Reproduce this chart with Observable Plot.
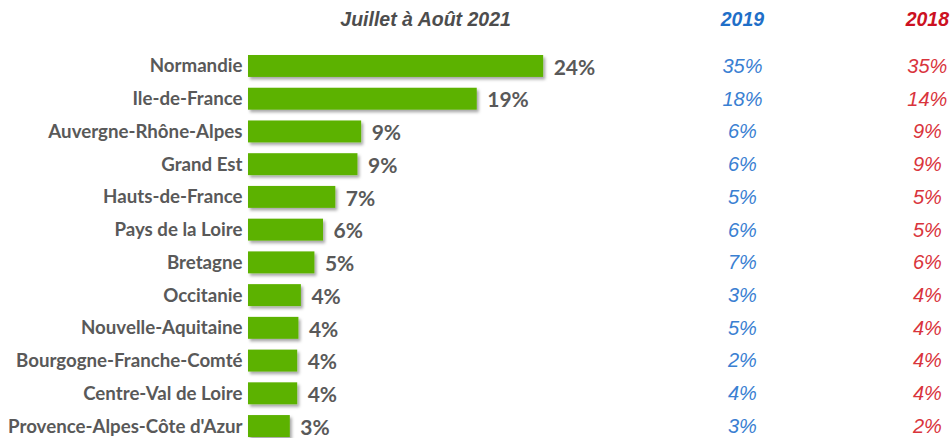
<!DOCTYPE html>
<html>
<head>
<meta charset="utf-8">
<script src="https://cdn.jsdelivr.net/npm/d3@7"></script>
<script src="https://cdn.jsdelivr.net/npm/@observablehq/plot@0.6"></script>
<style>
  html, body { margin: 0; padding: 0; background: #fff; }
  #chart { width: 951px; height: 438px; overflow: hidden; }
</style>
</head>
<body>
<div id="chart"></div>
<script>
const regions = ["Normandie", "Ile-de-France", "Auvergne-Rhône-Alpes", "Grand Est", "Hauts-de-France",
  "Pays de la Loire", "Bretagne", "Occitanie", "Nouvelle-Aquitaine", "Bourgogne-Franche-Comté",
  "Centre-Val de Loire", "Provence-Alpes-Côte d'Azur"];
const share2021 = [24, 18.6, 9.2, 8.9, 7.1, 6.1, 5.4, 4.3, 4.1, 4.0, 4.0, 3.4];
const labels2021 = ["24%", "19%", "9%", "9%", "7%", "6%", "5%", "4%", "4%", "4%", "4%", "3%"];
const labels2019 = ["35%", "18%", "6%", "6%", "5%", "6%", "7%", "3%", "5%", "2%", "4%", "3%"];
const labels2018 = ["35%", "14%", "9%", "9%", "5%", "5%", "6%", "4%", "4%", "4%", "4%", "2%"];
const headers = ["Juillet à Août 2021", "2019", "2018"];

const col2019 = 40.16, col2018 = 55.2, colTitle = 14.4;

const data = regions.map((r, i) => ({region: r, v: share2021[i], l21: labels2021[i], l19: labels2019[i], l18: labels2018[i]}));
const head = [
  {x: colTitle, t: headers[0], c: "#4d4d4d"},
  {x: col2019, t: headers[1], c: "#1f6fc8"},
  {x: col2018, t: headers[2], c: "#cc1122"}
];

const plot = Plot.plot({
  width: 951,
  height: 438,
  marginLeft: 248,
  marginRight: 2,
  marginTop: 0,
  marginBottom: 0,
  x: {domain: [0, 57], range: [248, 949], axis: null},
  y: {domain: regions, range: [49.6, 442.4], padding: 0, round: false, label: null},
  style: {background: "#fff"},
  marks: [
    Plot.axisY({tickSize: 0, tickPadding: 6, fontSize: 18.7, fontWeight: "bold", fill: "#595959",
      fontFamily: "Lato, sans-serif"}),
    Plot.barX(data, {x: "v", y: "region", fill: "#5cb200", insetTop: 5.4, insetBottom: 5.4, className: "bars"}),
    Plot.text(data, {x: "v", y: "region", text: "l21", textAnchor: "start", dx: 10, dy: 1.5,
      fontSize: 21, fontWeight: "bold", fill: "#595959", fontFamily: "Lato, sans-serif"}),
    Plot.text(data, {x: () => col2019, y: "region", text: "l19", fontSize: 20, fontStyle: "italic",
      fill: "#3a80d2", fontFamily: "'Liberation Sans', Arial, sans-serif"}),
    Plot.text(data, {x: () => col2018, y: "region", text: "l18", fontSize: 20, fontStyle: "italic",
      fill: "#d9343c", fontFamily: "'Liberation Sans', Arial, sans-serif"}),
    Plot.text(head, {x: "x", text: "t", fill: "c", frameAnchor: "top", dy: 12, fontSize: 19.5,
      fontWeight: "bold", fontStyle: "italic", fontFamily: "'Liberation Sans', Arial, sans-serif"})
  ]
});

// soft drop shadow on bars
const svg = d3.select(plot);
const defs = svg.insert("defs", ":first-child");
defs.append("filter").attr("id", "sh").attr("x", "-10%").attr("y", "-20%").attr("width", "130%").attr("height", "160%")
  .append("feDropShadow").attr("dx", 2).attr("dy", 2.5).attr("stdDeviation", 1.6)
  .attr("flood-color", "#000").attr("flood-opacity", 0.35);
svg.selectAll("g.bars").attr("filter", "url(#sh)");
svg.selectAll("g[aria-label='bar']").attr("filter", "url(#sh)");

document.getElementById("chart").appendChild(plot);
</script>
</body>
</html>
